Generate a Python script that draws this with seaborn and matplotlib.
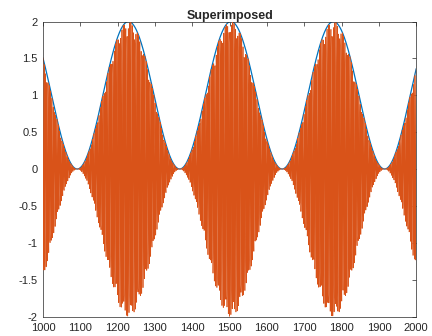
import numpy as np
import pandas as pd
import matplotlib
matplotlib.use("Agg")
import matplotlib.pyplot as plt
import seaborn as sns

# ---- values ----
x_range = [1000, 2000]                         # plotted x span
sample_step = [0.5]                            # spacing between samples
envelope_peak_positions = [1229, 1503, 1778]   # where the blue envelope reaches 2
envelope_period = [274.5]                      # distance between envelope peaks
envelope_offset = [1.0]                        # envelope = offset + cos(...)
carrier_cycles_per_unit = [0.293]              # fast oscillation of the orange trace
x_ticks = list(range(1000, 2001, 100))
y_ticks = [-2, -1.5, -1, -0.5, 0, 0.5, 1, 1.5, 2]
y_tick_labels = ["-2", "-1.5", "-1", "-0.5", "0", "0.5", "1", "1.5", "2"]
title_text = "Superimposed"

sample_index = np.arange(x_range[0], x_range[1] + sample_step[0] / 2, sample_step[0])
phase = 2 * np.pi * (sample_index - envelope_peak_positions[0]) / envelope_period[0]
envelope = envelope_offset[0] + np.cos(phase)
signal = envelope * np.cos(2 * np.pi * carrier_cycles_per_unit[0] * (sample_index - x_range[0]))

df_env = pd.DataFrame({"x": sample_index, "y": envelope})
df_sig = pd.DataFrame({"x": sample_index, "y": signal})

sns.set_style("white")
plt.rcParams["font.family"] = ["Liberation Sans", "DejaVu Sans"]

fig = plt.figure(figsize=(4.32, 3.36), dpi=100)
ax = fig.add_axes([0.0995, 0.058, 0.864, 0.878])

sns.lineplot(data=df_env, x="x", y="y", ax=ax, color="#0072BD", linewidth=0.9,
             estimator=None, sort=False, zorder=2)
sns.lineplot(data=df_sig, x="x", y="y", ax=ax, color="#D95319", linewidth=0.5,
             estimator=None, sort=False, zorder=3)

ax.set_xlim(1000, 2000)
ax.set_ylim(-2, 2)
ax.set_xticks(x_ticks)
ax.set_xticklabels([str(t) for t in x_ticks])
ax.set_yticks(y_ticks)
ax.set_yticklabels(y_tick_labels)
ax.set_xlabel("")
ax.set_ylabel("")
ax.tick_params(direction="in", length=3, width=0.5, colors="#262626",
               labelsize=8, top=True, right=True, labelcolor="#262626")
ax.tick_params(axis="x", pad=5)
ax.tick_params(axis="y", pad=4)
for s in ax.spines.values():
    s.set_visible(True)
    s.set_linewidth(0.5)
    s.set_color("#262626")
ax.set_title(title_text, fontsize=9, fontweight="bold", pad=2)

fig.savefig("out.png", dpi=100)
